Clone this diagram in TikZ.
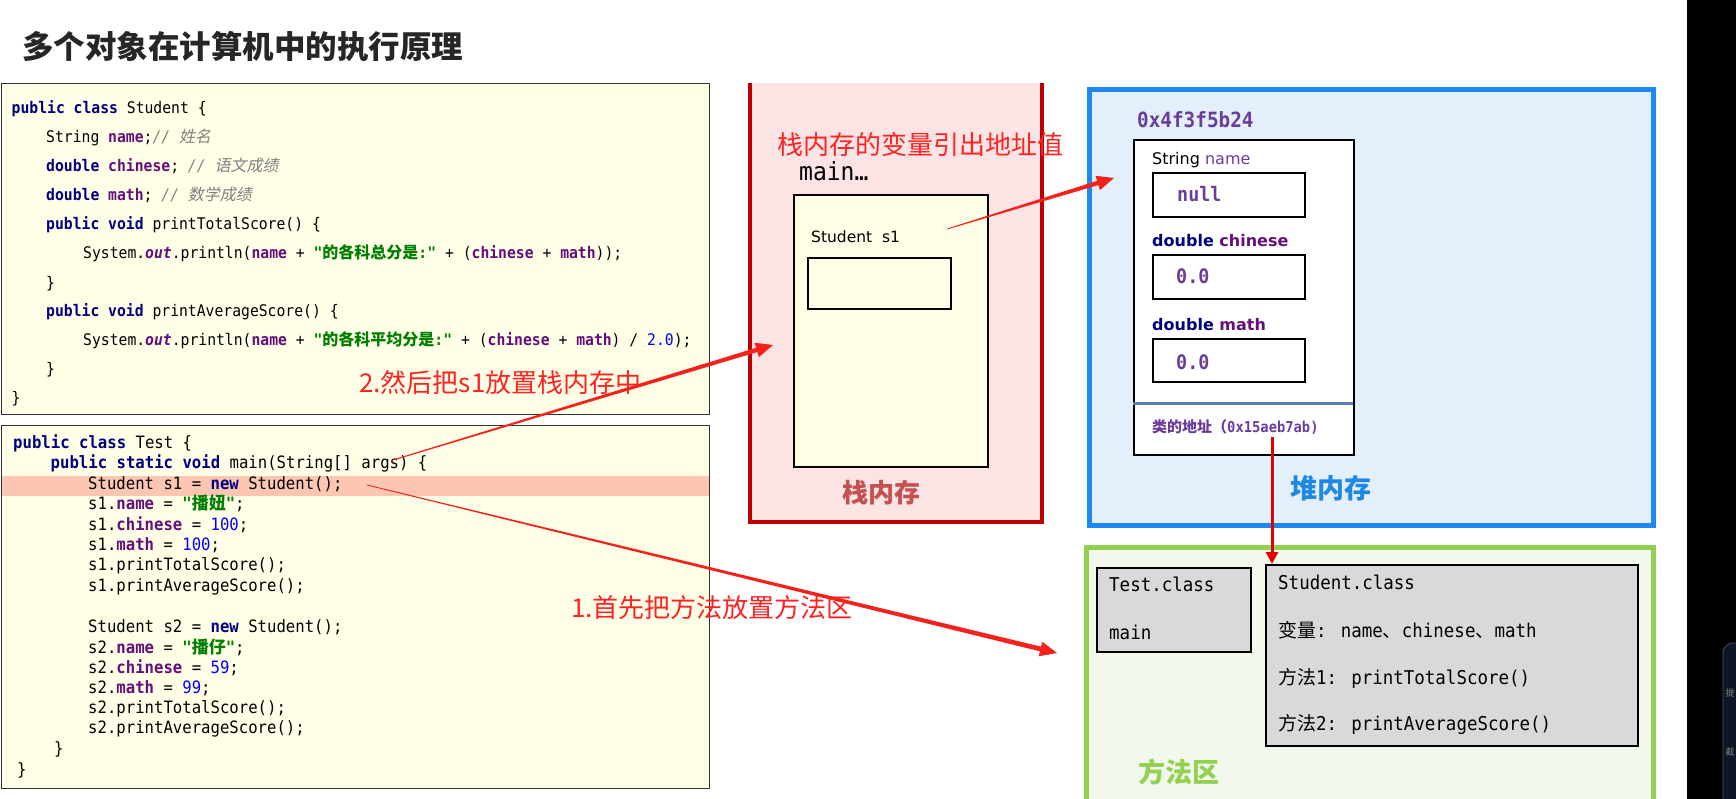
\documentclass[tikz,border=0pt]{standalone}
\usepackage{fontspec}
\usetikzlibrary{calc,arrows.meta}
\newfontfamily\cjk{Noto Sans CJK SC}
\newfontfamily\cjkit{Noto Sans CJK SC}[FakeSlant=0.2]
\newfontfamily\cf{DejaVu Sans Mono}[FakeStretch=0.92]
\newfontfamily\sfn{DejaVu Sans}
\definecolor{kwc}{HTML}{000080}
\definecolor{fdc}{HTML}{660E7A}
\definecolor{stc}{HTML}{008000}
\definecolor{nmc}{HTML}{0000FF}
\definecolor{cmc}{HTML}{808080}
\definecolor{codebg}{HTML}{FFFFE8}
\definecolor{hlc}{HTML}{FCC6B2}
\definecolor{stackbg}{HTML}{FDE4E4}
\definecolor{stackbd}{HTML}{C00000}
\definecolor{stacktx}{HTML}{C55050}
\definecolor{heapbg}{HTML}{E3F0FC}
\definecolor{heapbd}{HTML}{1E88F5}
\definecolor{heaptx}{HTML}{1E88E5}
\definecolor{hpur}{HTML}{6A3D9A}
\definecolor{sepc}{HTML}{5B7FB5}
\definecolor{methbg}{HTML}{F2F8EC}
\definecolor{methbd}{HTML}{92D050}
\definecolor{grayfill}{HTML}{D9D9D9}
\definecolor{arrred}{HTML}{F5221B}
\definecolor{varred}{HTML}{E00000}
\definecolor{lblred}{HTML}{FF2222}
\definecolor{framebg}{HTML}{FFFEE6}
\definecolor{panelbg}{HTML}{0E1626}
\newcommand\zh[1]{{\cjk #1}}
\newcommand\zhi[1]{{\cjkit #1}}
\newcommand\ckw[1]{\textcolor{kwc}{\bfseries #1}}
\newcommand\cfd[1]{\textcolor{fdc}{\bfseries #1}}
\newcommand\cstr[1]{\textcolor{stc}{\bfseries #1}}
\newcommand\cnum[1]{\textcolor{nmc}{#1}}
\newcommand\ccm[1]{\textcolor{cmc}{\itshape #1}}
\newcommand\cout[1]{\textcolor{fdc}{\bfseries\itshape #1}}
\newcommand\taper[5]{%
  \coordinate (tpC) at ($(#3)!17pt!(#2)$);
  \fill[#1] ($(#2)!#4!90:(#3)$) -- ($(tpC)!#5!90:(#3)$) -- ($(tpC)!7.5pt!90:(#3)$) -- (#3)
    -- ($(tpC)!7.5pt!-90:(#3)$) -- ($(tpC)!#5!-90:(#3)$) -- ($(#2)!#4!-90:(#3)$) -- cycle;
}
\begin{document}
\begin{tikzpicture}[x=1pt,y=-1pt,
  c1/.style={anchor=west, inner sep=0pt, font=\cf\fontsize{16}{19}\selectfont, text height=11.2pt, text depth=0pt},
  c2/.style={anchor=west, inner sep=0pt, font=\cf\fontsize{17}{20}\selectfont, text height=12pt, text depth=0pt},
  lw/.style={anchor=west, inner sep=0pt, text depth=0pt, text height=#1},
  lc/.style={anchor=center, inner sep=0pt, text depth=0pt, text height=#1},
  box/.style={draw=black, line width=1.6pt, anchor=north west, inner sep=0pt},
  redlbl/.style={lw=19.8pt, text=lblred, font=\cjk\fontsize{26}{26}\selectfont}
]
\useasboundingbox (0,0) rectangle (1736,799);
\clip (0,0) rectangle (1736,799);
\fill[white] (0,0) rectangle (1736,799);

% title
\node[lw=24pt, font=\cjk\bfseries\fontsize{31.5}{31.5}\selectfont, text=black!85] (title) at (22,47) {多个对象在计算机中的执行原理};

% code box 1
\node[box, line width=1.4pt, draw=black!80, fill=codebg, minimum width=708pt, minimum height=331pt] (code1) at (0.7,83) {};
\node[c1] (a1) at (11.5,108) {\ckw{public class} Student \{};
\node[c1] (a2) at (46,137) {String \cfd{name};\ccm{// \zhi{姓名}}};
\node[c1] (a3) at (46,166) {\ckw{double} \cfd{chinese}; \ccm{// \zhi{语文成绩}}};
\node[c1] (a4) at (46,195) {\ckw{double} \cfd{math}; \ccm{// \zhi{数学成绩}}};
\node[c1] (a5) at (46,224) {\ckw{public void} printTotalScore() \{};
\node[c1] (a6) at (83,253) {System.\cout{out}.println(\cfd{name} + \cstr{"\zh{的各科总分是}:"} + (\cfd{chinese} + \cfd{math}));};
\node[c1] (a7) at (46,283) {\}};
\node[c1] (a8) at (46,311) {\ckw{public void} printAverageScore() \{};
\node[c1] (a9) at (83,340) {System.\cout{out}.println(\cfd{name} + \cstr{"\zh{的各科平均分是}:"} + (\cfd{chinese} + \cfd{math}) / \cnum{2.0});};
\node[c1] (a10) at (46,369) {\}};
\node[c1] (a11) at (11.5,398) {\}};

% code box 2
\node[box, line width=1.4pt, draw=black!80, fill=codebg, minimum width=708pt, minimum height=363pt] (code2) at (0.7,425) {};
\node[fill=hlc, anchor=north west, inner sep=0pt, minimum width=707pt, minimum height=20pt] (hl) at (1.5,476) {};
\node[c2] (b1) at (13,442) {\ckw{public class} Test \{};
\node[c2] (b2) at (50.5,462) {\ckw{public static void} main(String[] args) \{};
\node[c2] (b3) at (88,483) {Student s1 = \ckw{new} Student();};
\node[c2] (b4) at (88,503) {s1.\cfd{name} = \cstr{"\zh{播妞}"};};
\node[c2] (b5) at (88,524) {s1.\cfd{chinese} = \cnum{100};};
\node[c2] (b6) at (88,544) {s1.\cfd{math} = \cnum{100};};
\node[c2] (b7) at (88,564) {s1.printTotalScore();};
\node[c2] (b8) at (88,585) {s1.printAverageScore();};
\node[c2] (b9) at (88,626) {Student s2 = \ckw{new} Student();};
\node[c2] (b10) at (88,647) {s2.\cfd{name} = \cstr{"\zh{播仔}"};};
\node[c2] (b11) at (88,667) {s2.\cfd{chinese} = \cnum{59};};
\node[c2] (b12) at (88,687) {s2.\cfd{math} = \cnum{99};};
\node[c2] (b13) at (88,707) {s2.printTotalScore();};
\node[c2] (b14) at (88,727) {s2.printAverageScore();};
\node[c2] (b15) at (54,748) {\}};
\node[c2] (b16) at (17,769) {\}};

% stack
\fill[stackbg] (750,83) rectangle (1042,522);
\draw[stackbd, line width=4.5pt] (750,83) -- (750,522) -- (1042,522) -- (1042,83);
\node[lw=18pt, font=\cf\fontsize{25}{25}\selectfont] (mainlbl) at (799,172) {main…};
\node[box, fill=framebg, minimum width=194pt, minimum height=272pt] (frame) at (793,194) {};
\node[lw=11.2pt, font=\sfn\fontsize{15.5}{16}\selectfont] (s1lbl) at (811,237) {Student\ \ s1};
\node[box, fill=framebg, minimum width=143pt, minimum height=51pt] (s1box) at (807,257) {};
\node[lc=19.8pt, font=\cjk\bfseries\fontsize{26}{26}\selectfont, text=stacktx] (stacklbl) at (881,493) {栈内存};

% heap
\node[draw=heapbd, fill=heapbg, line width=5pt, anchor=north west, inner sep=0pt, minimum width=564pt, minimum height=436pt] (heap) at (1087,87) {};
\node[lw=15pt, font=\cf\bfseries\fontsize{21}{21}\selectfont, text=hpur] (addr) at (1137,120) {0x4f3f5b24};
\node[box, fill=white, minimum width=220pt, minimum height=315pt] (obj) at (1133,139) {};
\node[lw=11.2pt, font=\sfn\fontsize{16}{16}\selectfont] (fname) at (1152,159) {String \textcolor{hpur}{name}};
\node[box, fill=white, minimum width=152pt, minimum height=44pt] (vname) at (1152,172) {};
\node[lw=14pt, font=\cf\bfseries\fontsize{20}{20}\selectfont, text=hpur] (null) at (1177,195) {null};
\node[lw=11.2pt, font=\sfn\bfseries\fontsize{16}{16}\selectfont] (fchin) at (1152,241) {\textcolor{kwc}{double} \textcolor{fdc}{chinese}};
\node[box, fill=white, minimum width=152pt, minimum height=44pt] (vchin) at (1152,254) {};
\node[lw=14pt, font=\cf\bfseries\fontsize{20}{20}\selectfont, text=hpur] (zero1) at (1176,277) {0.0};
\node[lw=11.2pt, font=\sfn\bfseries\fontsize{16}{16}\selectfont] (fmath) at (1152,325) {\textcolor{kwc}{double} \textcolor{fdc}{math}};
\node[box, fill=white, minimum width=152pt, minimum height=43pt] (vmath) at (1152,338) {};
\node[lw=14pt, font=\cf\bfseries\fontsize{20}{20}\selectfont, text=hpur] (zero2) at (1176,362) {0.0};
\draw[sepc, line width=3pt] ($(obj.north west)+(0,264)$) -- ($(obj.north east)+(-2,264)$);
\node[lw=11pt, font=\bfseries\fontsize{15}{15}\selectfont, text=hpur] (clsaddr) at (1152,427) {\zh{类的地址（}{\cf 0x15aeb7ab)}};
\node[lc=20.5pt, font=\cjk\bfseries\fontsize{27}{27}\selectfont, text=heaptx] (heaplbl) at (1331,488) {堆内存};

% method area
\node[draw=methbd, fill=methbg, line width=5pt, anchor=north west, inner sep=0pt, minimum width=567pt, minimum height=290pt] (meth) at (1084,545) {};
\node[box, fill=grayfill, minimum width=154pt, minimum height=84pt] (testcls) at (1096,567) {};
\node[lw=13pt, font=\cf\fontsize{19}{19}\selectfont] (t1) at (1109,585) {Test.class};
\node[lw=13pt, font=\cf\fontsize{19}{19}\selectfont] (t2) at (1109,633) {main};
\node[box, fill=grayfill, minimum width=372pt, minimum height=181pt] (stucls) at (1265,564) {};
\node[lw=13pt, font=\cf\fontsize{19}{19}\selectfont] (u1) at (1278,583) {Student.class};
\node[lw=13pt, font=\cf\fontsize{19}{19}\selectfont] (u2) at (1278,631) {\zh{变量}: name\zh{、}chinese\zh{、}math};
\node[lw=13pt, font=\cf\fontsize{19}{19}\selectfont] (u3) at (1278,678) {\zh{方法}1: printTotalScore()};
\node[lw=13pt, font=\cf\fontsize{19}{19}\selectfont] (u4) at (1278,724) {\zh{方法}2: printAverageScore()};
\node[lc=20.5pt, font=\cjk\bfseries\fontsize{27}{27}\selectfont, text=methbd] (methlbl) at (1179,772) {方法区};

% right dark strip
\fill[black] (1687,0) rectangle (1736,799);
\draw[fill=panelbg, draw=black!60!blue!40!gray, line width=0.8pt, rounded corners=10pt] (1723,643) rectangle (1780,840);
\node[lw=7pt, font=\cjk\fontsize{9}{9}\selectfont, text=gray] (p1) at (1725.5,693) {提};
\node[lw=7pt, font=\cjk\fontsize{9}{9}\selectfont, text=gray] (p2) at (1725.5,752) {截};

% red labels
\node[redlbl] (lbl3) at (777,145) {栈内存的变量引出地址值};
\node[redlbl] (lbl2) at (359,383) {2.然后把s1放置栈内存中};
\node[redlbl] (lbl1) at (571,608) {1.首先把方法放置方法区};

% arrows
\coordinate (a2s) at (393,460);
\coordinate (a2e) at (773,345);
\coordinate (a1s) at (367,485);
\coordinate (a1e) at (1057,653);
\coordinate (a3s) at (947,229);
\coordinate (a3e) at (1114,178);
\taper{arrred}{a2s}{a2e}{0.5pt}{2.2pt}
\taper{arrred}{a1s}{a1e}{0.4pt}{2.4pt}
\taper{arrred}{a3s}{a3e}{0.4pt}{2.2pt}
\coordinate (a4s) at (1272,437);
\draw[varred, line width=3pt, -{Triangle[length=12pt,width=12pt]}] (a4s) -- (a4s |- stucls.north);
\end{tikzpicture}
\end{document}
